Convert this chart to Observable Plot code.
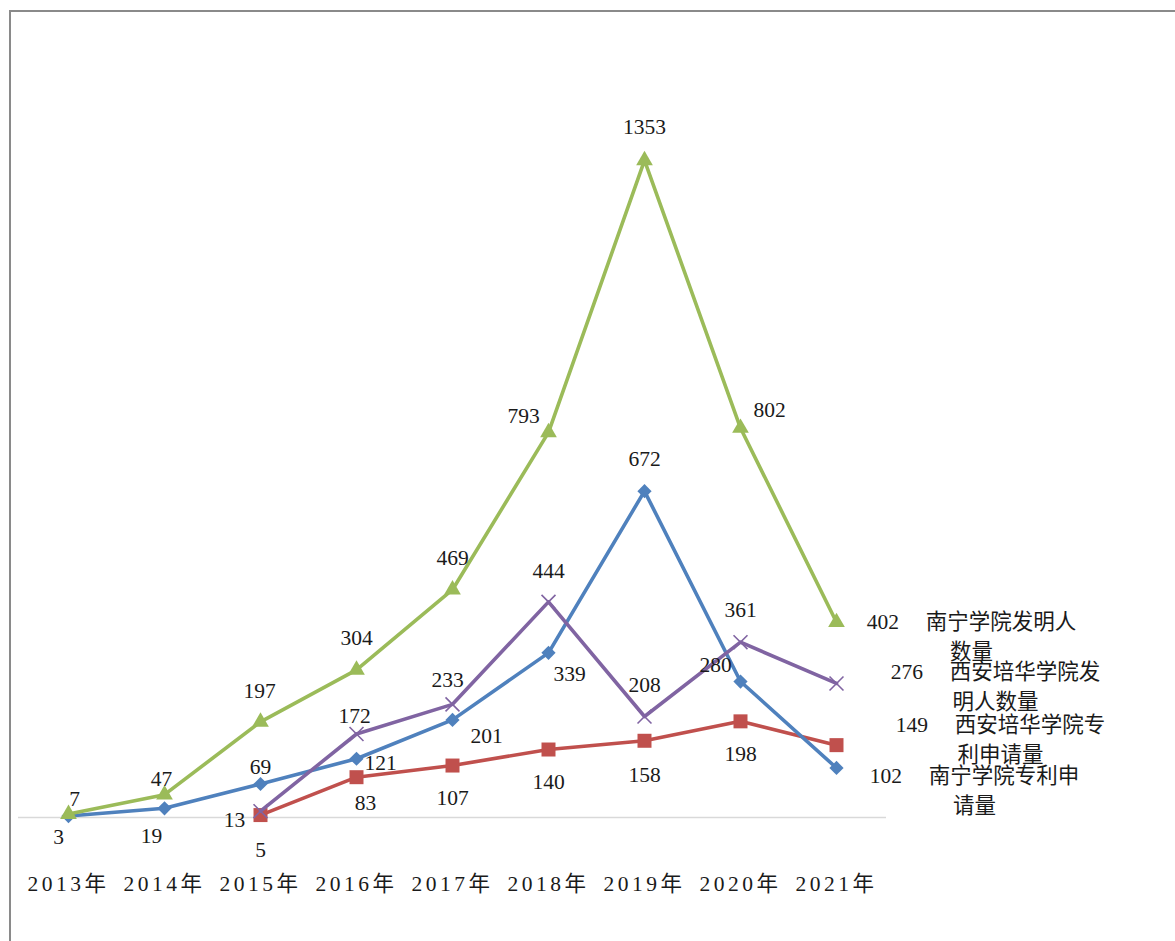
<!DOCTYPE html>
<html>
<head>
<meta charset="utf-8">
<script src="https://cdn.jsdelivr.net/npm/d3@7"></script>
<script src="https://cdn.jsdelivr.net/npm/@observablehq/plot@0.6"></script>
<style>
  html, body { margin: 0; padding: 0; background: #fff; overflow: hidden; }
  #wrap { position: relative; width: 1175px; height: 941px; overflow: hidden; }
  #border { position: absolute; left: 9px; top: 10px; width: 1300px; height: 1100px; border: 2px solid #8a8a8a; box-sizing: border-box; }
  #chart { position: absolute; left: 0; top: 0; }
  g[aria-label="x-axis tick label"] text { letter-spacing: 3.5px; }
</style>
</head>
<body>
<div id="wrap"><div id="border"></div><div id="chart"></div></div>
<script>
// Categories
const years = ["2013年", "2014年", "2015年", "2016年", "2017年", "2018年", "2019年", "2020年", "2021年"];

// Series values (null = no data that year)
const nnInventors = [7, 47, 197, 304, 469, 793, 1353, 802, 402];        // 南宁学院发明人数量
const nnPatents   = [3, 19, 69, 121, 201, 339, 672, 280, 102];          // 南宁学院专利申请量
const xaInventors = [null, null, 13, 172, 233, 444, 208, 361, 276];     // 西安培华学院发明人数量
const xaPatents   = [null, null, 5, 83, 107, 140, 158, 198, 149];       // 西安培华学院专利申请量

// Series names
const nameNnInventors = "南宁学院发明人数量";
const nameNnPatents   = "南宁学院专利申请量";
const nameXaInventors = "西安培华学院发明人数量";
const nameXaPatents   = "西安培华学院专利申请量";

const FONT = "'Liberation Serif', 'Noto Sans CJK SC', serif";
const FS = 21.5;

const series = [
  { name: nameXaPatents, values: xaPatents, color: "#C0504D", symbol: "square", r: 7.9, filled: true,
    ldx: [0, 9, 0, 0, 0, 0], ldy: [35, 26, 33, 33, 34, 33], ndx: 164, ndy: -23 },
  { name: nameNnPatents, values: nnPatents, color: "#4F81BD", symbol: "diamond2", r: 6.4, filled: true,
    ldx: [-10, -13, 0, 24, 34, 21, 0, -25], ldy: [21, 28, -17, 4, 16, 21, -32, -16], ndx: 138, ndy: 5 },
  { name: nameNnInventors, values: nnInventors, color: "#9BBB59", symbol: "triangle", r: 6.2, filled: true,
    ldx: [6, -3, -1, 0, 0, -25, 0, 29], ldy: [-15, -16, -31, -32, -32, -16, -33, -18], ndx: 135, ndy: -3 },
  { name: nameXaInventors, values: xaInventors, color: "#8064A2", symbol: "times", r: 6.4, filled: false,
    ldx: [-26, -2, -5, 0, 0, 0], ldy: [9, -18, -24, -31, -31, -32], ndx: 159, ndy: -14 }
];

const marks = [Plot.ruleY([0], { stroke: "#d9d9d9", strokeWidth: 1.5 })];
const labelMarks = [];

for (const s of series) {
  const rows = years.map((year, i) => ({ year, value: s.values[i] })).filter(d => d.value != null);
  marks.push(Plot.line(rows, { x: "year", y: "value", stroke: s.color, strokeWidth: 3.6 }));
  marks.push(Plot.dot(rows, s.filled
    ? { x: "year", y: "value", symbol: s.symbol, r: s.r, fill: s.color, stroke: "none" }
    : { x: "year", y: "value", symbol: s.symbol, r: s.r, fill: "none", stroke: s.color, strokeWidth: 1.6 }));
  rows.slice(0, -1).forEach((d, k) => {
    labelMarks.push(Plot.text([d], {
      x: "year", y: "value", text: v => String(v.value),
      dx: s.ldx[k], dy: s.ldy[k], fontSize: FS, fontFamily: FONT, fill: "#1a1a1a"
    }));
  });
  const last = rows[rows.length - 1];
  labelMarks.push(Plot.text([last], {
    x: "year", y: "value",
    text: v => `${v.value} \u3000${s.name.slice(0, 7)}\n${s.name.slice(7)}`,
    dx: s.ndx, dy: s.ndy + 15, lineHeight: 30 / FS, lineAnchor: "middle",
    fontSize: FS, fontFamily: FONT, fill: "#1a1a1a"
  }));
}

marks.push(...labelMarks);
marks.push(Plot.axisX({ tickSize: 0, tickPadding: 58, fontSize: FS, fontFamily: FONT, fill: "#1a1a1a", label: null }));

const chart = Plot.plot({
  width: 1175,
  height: 941,
  marginLeft: 18,
  marginRight: 289,
  marginTop: 40,
  marginBottom: 124,
  style: { background: "transparent", overflow: "visible" },
  x: { type: "point", domain: years, padding: 0.5, axis: null, label: null },
  y: { domain: [0, 1600], axis: null },
  marks
});
document.getElementById("chart").appendChild(chart);
</script>
</body>
</html>
